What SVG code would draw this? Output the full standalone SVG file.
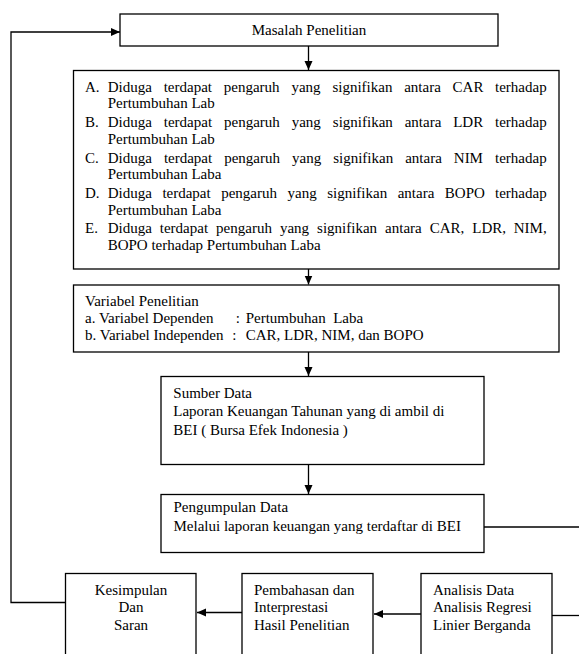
<svg xmlns="http://www.w3.org/2000/svg" width="579" height="654" viewBox="0 0 579 654">
<defs>
<style>
.box{fill:#fff;stroke:#000;stroke-width:1.3}
.ln{fill:none;stroke:#000;stroke-width:1.3}
text{font-family:"Liberation Serif","Times New Roman",serif;font-size:15px;fill:#000}
.c{text-anchor:middle}
.e{text-anchor:end}
</style>
<marker id="ah" markerWidth="10" markerHeight="10" refX="9" refY="5" orient="auto" markerUnits="userSpaceOnUse">
<path d="M0,1 L9,5 L0,9 Z" fill="#000"/>
</marker>
</defs>
<rect width="579" height="654" fill="#fff"/>
<g id="connectors">
<path class="ln" d="M308.5,46 V70" marker-end="url(#ah)"/>
<path class="ln" d="M308.5,269 V284.5" marker-end="url(#ah)"/>
<path class="ln" d="M308.5,352 V376" marker-end="url(#ah)"/>
<path class="ln" d="M308.5,464.5 V494" marker-end="url(#ah)"/>
<path class="ln" d="M65.5,602.5 H11 V32 H120" marker-end="url(#ah)"/>
<path class="ln" d="M242,612.5 H197" marker-end="url(#ah)"/>
<path class="ln" d="M421,614 H374" marker-end="url(#ah)"/>
<path class="ln" d="M484,527 H579"/>
<path class="ln" d="M552,615.5 H579"/>
</g>
<g id="masalah">
<rect class="box" x="120" y="14" width="378" height="32"/>
<text class="c" x="309" y="35">Masalah Penelitian</text>
</g>
<g id="hipotesis">
<rect class="box" x="73.5" y="70.5" width="485.5" height="198.5"/>
<text x="85" y="91.7">A.</text>
<text y="91.7"><tspan x="107.7">Diduga</tspan><tspan x="163.7">terdapat</tspan><tspan x="223.8">pengaruh</tspan><tspan x="291.4">yang</tspan><tspan x="332.4">signifikan</tspan><tspan x="404.2">antara</tspan><tspan x="452.6">CAR</tspan></text>
<text class="e" x="546.7" y="91.7">terhadap</text>
<text x="107.7" y="108.4">Pertumbuhan Lab</text>
<text x="85" y="127.1">B.</text>
<text y="127.1"><tspan x="107.7">Diduga</tspan><tspan x="163.8">terdapat</tspan><tspan x="224">pengaruh</tspan><tspan x="291.7">yang</tspan><tspan x="332.8">signifikan</tspan><tspan x="404.7">antara</tspan><tspan x="453.2">LDR</tspan></text>
<text class="e" x="546.7" y="127.1">terhadap</text>
<text x="107.7" y="143.8">Pertumbuhan Lab</text>
<text x="85" y="162.5">C.</text>
<text y="162.5"><tspan x="107.7">Diduga</tspan><tspan x="163.9">terdapat</tspan><tspan x="224.2">pengaruh</tspan><tspan x="292">yang</tspan><tspan x="333.2">signifikan</tspan><tspan x="405.2">antara</tspan><tspan x="453.8">NIM</tspan></text>
<text class="e" x="546.7" y="162.5">terhadap</text>
<text x="107.7" y="179.2">Pertumbuhan Laba</text>
<text x="85" y="197.9">D.</text>
<text y="197.9"><tspan x="107.7">Diduga</tspan><tspan x="162.4">terdapat</tspan><tspan x="221.2">pengaruh</tspan><tspan x="287.5">yang</tspan><tspan x="327.2">signifikan</tspan><tspan x="397.7">antara</tspan><tspan x="444.8">BOPO</tspan></text>
<text class="e" x="546.7" y="197.9">terhadap</text>
<text x="107.7" y="214.6">Pertumbuhan Laba</text>
<text x="85" y="233.3">E.</text>
<text y="233.3"><tspan x="107.7">Diduga</tspan><tspan x="159.8">terdapat</tspan><tspan x="216.1">pengaruh</tspan><tspan x="279.9">yang</tspan><tspan x="317.1">signifikan</tspan><tspan x="385.1">antara</tspan><tspan x="429.7">CAR,</tspan><tspan x="472.3">LDR,</tspan></text>
<text class="e" x="546.7" y="233.3">NIM,</text>
<text x="107.7" y="250">BOPO terhadap Pertumbuhan Laba</text>
</g>
<g id="variabel">
<rect class="box" x="73.5" y="285" width="485.5" height="67"/>
<text x="85" y="306">Variabel Penelitian</text>
<text x="85" y="323">a. Variabel Dependen</text>
<text x="235.7" y="323">:</text>
<text x="245.7" y="323" xml:space="preserve">Pertumbuhan  Laba</text>
<text x="85" y="340">b. Variabel Independen</text>
<text x="232.3" y="340">:</text>
<text x="245.7" y="340">CAR, LDR, NIM, dan BOPO</text>
</g>
<g id="sumber">
<rect class="box" x="161" y="376.5" width="323" height="88"/>
<text x="173.3" y="397.5">Sumber Data</text>
<text x="173.3" y="416">Laporan Keuangan Tahunan yang di ambil di</text>
<text x="173.3" y="434.5">BEI ( Bursa Efek Indonesia )</text>
</g>
<g id="pengumpulan">
<rect class="box" x="161" y="494.5" width="323" height="58"/>
<text x="173.5" y="512">Pengumpulan Data</text>
<text x="173.5" y="531">Melalui laporan keuangan yang terdaftar di BEI</text>
</g>
<g id="kesimpulan">
<rect class="box" x="65.5" y="573.5" width="130.5" height="90"/>
<text class="c" x="131" y="594.5">Kesimpulan</text>
<text class="c" x="131" y="612">Dan</text>
<text class="c" x="131" y="630">Saran</text>
</g>
<g id="pembahasan">
<rect class="box" x="242" y="573.5" width="131" height="90"/>
<text x="254" y="594.5">Pembahasan dan</text>
<text x="254" y="612">Interprestasi</text>
<text x="254" y="630">Hasil Penelitian</text>
</g>
<g id="analisis">
<rect class="box" x="421" y="573.5" width="131" height="90"/>
<text x="433" y="594.5">Analisis Data</text>
<text x="433" y="612">Analisis Regresi</text>
<text x="433" y="630">Linier Berganda</text>
</g>
</svg>
